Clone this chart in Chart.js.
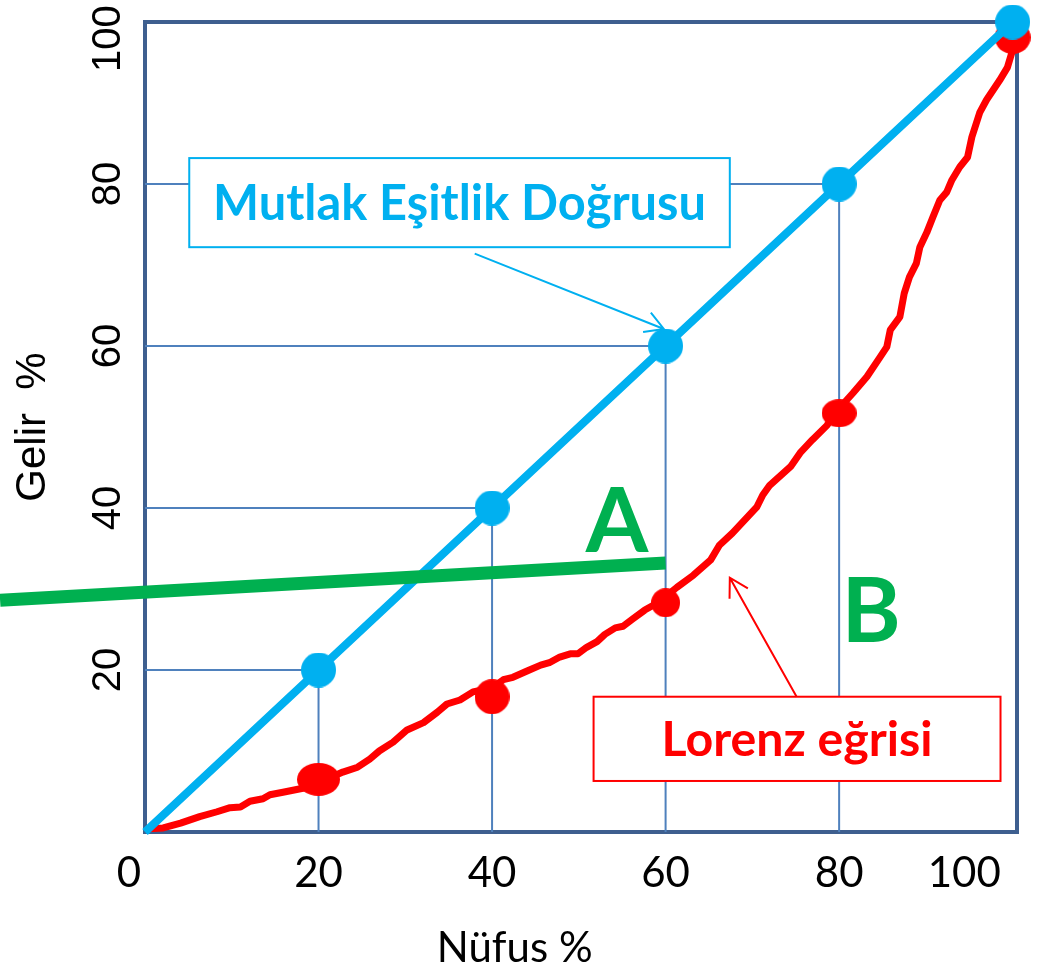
<!DOCTYPE html>
<html>
<head>
<meta charset="utf-8">
<script src="https://cdn.jsdelivr.net/npm/chart.js@4.4.1/dist/chart.umd.min.js"></script>
<style>
  html, body { margin: 0; padding: 0; background: #fff; }
  #wrap { width: 1051px; height: 966px; }
</style>
</head>
<body>
<div id="wrap"><canvas id="lorenzCanvas"></canvas></div>
<script>
// eksen etiketleri
const xTicks = [0, 20, 40, 60, 80, 100];
const yTicks = [20, 40, 60, 80, 100];

// mutlak eşitlik doğrusu
const esitlikX = [0, 20, 40, 60, 80, 100];
const esitlikY = [0, 20, 40, 60, 80, 100];

// Lorenz eğrisi (resimden okunan noktalar)
const lorenzX = [0, 0.6, 2.1, 4.1, 6.3, 8.3, 9.8, 11.0, 12.1, 13.6, 14.4, 15.9, 18.2, 20.7, 22.8, 24.5,
  25.9, 27.0, 28.6, 30.2, 32.1, 33.7, 34.8, 36.3, 37.8, 40.0, 41.3, 42.4, 44.1, 45.6, 46.6, 47.8,
  49.0, 49.9, 50.9, 52.1, 53.0, 54.2, 55.1, 56.2, 57.6, 59.1, 61.3, 63.2, 65.2, 66.2, 67.7, 70.5,
  71.2, 72.0, 74.4, 75.5, 76.9, 78.6, 79.5, 81.6, 83.2, 84.7, 85.5, 85.9, 87.0, 87.5, 88.1, 88.9,
  89.3, 90.1, 90.8, 91.6, 92.4, 93.0, 93.9, 94.8, 95.3, 96.2, 97.0, 98.5, 99.4, 99.9, 100.0];
const lorenzY = [0, 0.4, 0.5, 1.1, 1.9, 2.5, 3.0, 3.1, 3.8, 4.1, 4.6, 4.9, 5.4, 6.4, 7.4, 8.0,
  9.0, 10.0, 11.1, 12.6, 13.5, 14.8, 15.8, 16.3, 17.3, 17.8, 18.8, 19.1, 19.9, 20.6, 20.9, 21.6,
  22.0, 22.0, 22.8, 23.5, 24.4, 25.2, 25.4, 26.3, 27.4, 28.3, 30.2, 31.7, 33.6, 35.4, 36.9, 40.1,
  41.6, 42.8, 45.1, 46.8, 48.4, 50.2, 51.7, 54.2, 56.2, 58.6, 59.9, 62.0, 63.6, 66.5, 68.5, 70.2,
  72.2, 74.0, 75.9, 78.0, 79.0, 80.5, 82.1, 83.3, 85.8, 88.8, 90.4, 92.8, 94.4, 96.2, 98.1];

// Lorenz üzerindeki noktalar
const lorenzNoktaX = [20, 40, 60, 80, 100];
const lorenzNoktaY = [6.5, 16.7, 28.3, 51.7, 98.1];

// A harfini gösteren yeşil çizgi
const cizgiAX = [-16.7, 60];
const cizgiAY = [28.6, 33.2];

const mavi = '#00b0f0';
const kirmizi = '#ff0000';
const yesil = '#00b050';
const eksenRenk = '#3e5f8f';
const izgaraRenk = '#4f81bd';

// bazı etiketler resimde biraz kaydırılmış (sondaki boşluk sayısı)
const xKaydir = {0: 3, 100: 9};
const yKaydir = {100: 3};

const toPts = (xs, ys) => xs.map((x, i) => ({x: x, y: ys[i]}));

// noktalardan eksenlere inen ince çizgiler
const dusumler = [];
esitlikX.forEach((x, i) => {
    if (x <= 0 || x >= 100) return;
    const y = esitlikY[i];
    dusumler.push({x: 0, y: y}, {x: x, y: y}, {x: x, y: 0}, {x: x, y: null});
});

function nokta(w, h, renk) {
    const c = document.createElement('canvas');
    c.width = w; c.height = h;
    const g = c.getContext('2d');
    g.fillStyle = renk;
    g.beginPath();
    g.ellipse(w / 2, h / 2, w / 2, h / 2, 0, 0, Math.PI * 2);
    g.fill();
    return c;
}

const maviNokta = nokta(35, 35, mavi);
const kirmiziNoktalar = [nokta(43, 33, kirmizi), nokta(35, 35, kirmizi), nokta(29, 29, kirmizi),
    nokta(35, 28, kirmizi), nokta(36, 33, kirmizi)];

function ok(ctx, x1, y1, x2, y2, renk) {
    const a = Math.atan2(y1 - y2, x1 - x2);
    const L = 21, w = Math.PI / 6;
    ctx.strokeStyle = renk;
    ctx.lineWidth = 2;
    ctx.beginPath();
    ctx.moveTo(x1, y1); ctx.lineTo(x2, y2);
    ctx.moveTo(x2 + L * Math.cos(a + w), y2 + L * Math.sin(a + w));
    ctx.lineTo(x2, y2);
    ctx.lineTo(x2 + L * Math.cos(a - w), y2 + L * Math.sin(a - w));
    ctx.stroke();
}

function kutu(ctx, x1, y1, x2, y2, renk, yazi, genislik) {
    ctx.fillStyle = '#fff';
    ctx.fillRect(x1, y1, x2 - x1, y2 - y1);
    ctx.strokeStyle = renk;
    ctx.lineWidth = 2;
    ctx.strokeRect(x1, y1, x2 - x1, y2 - y1);
    ctx.font = 'bold 40px Lato';
    const size = 40 * genislik / ctx.measureText(yazi).width;
    ctx.font = 'bold ' + size + 'px Lato';
    ctx.fillStyle = renk;
    ctx.textAlign = 'center';
    ctx.textBaseline = 'alphabetic';
    ctx.fillText(yazi, (x1 + x2) / 2, (y1 + y2) / 2 + size * 0.36);
}

const notlar = {
    id: 'notlar',
    beforeDatasetsDraw(chart) {
        const {ctx, chartArea: a} = chart;
        ctx.save();
        ctx.strokeStyle = eksenRenk;
        ctx.lineWidth = 4;
        ctx.beginPath();
        ctx.moveTo(a.left - 2, a.top);
        ctx.lineTo(a.right, a.top);
        ctx.lineTo(a.right, a.bottom + 2);
        ctx.stroke();
        ctx.restore();
    },
    afterDatasetsDraw(chart) {
        const {ctx, scales: {x, y}} = chart;
        const px = v => x.getPixelForValue(v);
        const py = v => y.getPixelForValue(v);
        ctx.save();
        kutu(ctx, px(5.1), py(83.2), px(67.4), py(72.2), mavi, 'Mutlak Eşitlik Doğrusu', 493);
        ok(ctx, px(38.0), py(71.4), px(59.8), py(62.1), mavi);
        kutu(ctx, px(51.7), py(16.7), px(98.6), py(6.3), kirmizi, 'Lorenz eğrisi', 271);
        ok(ctx, px(75.1), py(16.7), px(67.4), py(31.4), kirmizi);

        ctx.fillStyle = yesil;
        ctx.font = 'bold 90px Lato';
        ctx.textAlign = 'center';
        ctx.textBaseline = 'alphabetic';
        ctx.fillText('A', px(54.4), py(34.6));
        ctx.fillText('B', px(83.7), py(23.5));

        ctx.fillStyle = '#000';
        ctx.font = '42px Lato';
        ctx.fillText('Nüfus %', px(42.6), x.bottom + 60);
        ctx.restore();
    }
};

const lorenzChart = new Chart(document.getElementById('lorenzCanvas'), {
    type: 'scatter',
    data: {
        datasets: [{
            data: dusumler,
            showLine: true,
            borderColor: izgaraRenk,
            borderWidth: 2,
            pointRadius: 0,
            spanGaps: false,
            order: 6
        }, {
            data: toPts(lorenzX, lorenzY),
            showLine: true,
            borderColor: kirmizi,
            borderWidth: 7,
            borderJoinStyle: 'round',
            pointRadius: 0,
            order: 4
        }, {
            data: toPts(lorenzNoktaX, lorenzNoktaY),
            showLine: false,
            pointStyle: kirmiziNoktalar,
            backgroundColor: kirmizi,
            clip: false,
            order: 3
        }, {
            data: toPts(esitlikX, esitlikY),
            showLine: true,
            borderColor: mavi,
            borderWidth: 8,
            pointStyle: esitlikX.map(v => v === 0 ? false : maviNokta),
            clip: false,
            order: 2
        }, {
            data: toPts(cizgiAX, cizgiAY),
            showLine: true,
            borderColor: yesil,
            borderWidth: 13,
            pointRadius: 0,
            clip: false,
            order: 1
        }]
    },
    options: {
        responsive: true,
        maintainAspectRatio: false,
        animation: false,
        events: [],
        layout: {padding: {top: 22, right: 34, bottom: 64, left: 0}},
        plugins: {legend: {display: false}, tooltip: {enabled: false}},
        scales: {
            x: {
                type: 'linear',
                min: 0,
                max: 100.5,
                afterBuildTicks: s => { s.ticks = xTicks.map(v => ({value: v})); },
                afterFit: s => { s.height = 70; s.paddingLeft = 0; s.paddingRight = 0; },
                grid: {display: false, drawTicks: false},
                border: {display: true, color: eksenRenk, width: 4},
                ticks: {
                    color: '#000',
                    font: {family: 'Lato', size: 42},
                    padding: 16,
                    maxRotation: 0,
                    autoSkip: false,
                    callback: v => String(v) + ' '.repeat(xKaydir[v] || 0)
                }
            },
            y: {
                type: 'linear',
                min: 0,
                max: 100,
                afterBuildTicks: s => { s.ticks = yTicks.map(v => ({value: v})); },
                afterFit: s => { s.width = 145; s.paddingTop = 0; s.paddingBottom = 0; },
                grid: {display: false, drawTicks: false},
                border: {display: true, color: eksenRenk, width: 4},
                ticks: {
                    color: '#000',
                    font: {family: "'Liberation Sans', Arial", size: 40},
                    minRotation: 90,
                    maxRotation: 90,
                    crossAlign: 'center',
                    padding: -14,
                    autoSkip: false,
                    callback: v => String(v) + ' '.repeat(yKaydir[v] || 0)
                },
                title: {
                    display: true,
                    text: 'Gelir  %',
                    color: '#000',
                    font: {family: "'Liberation Sans', Arial", size: 42},
                    padding: {top: 8, bottom: 0}
                }
            }
        }
    },
    plugins: [notlar]
});
</script>
</body>
</html>
